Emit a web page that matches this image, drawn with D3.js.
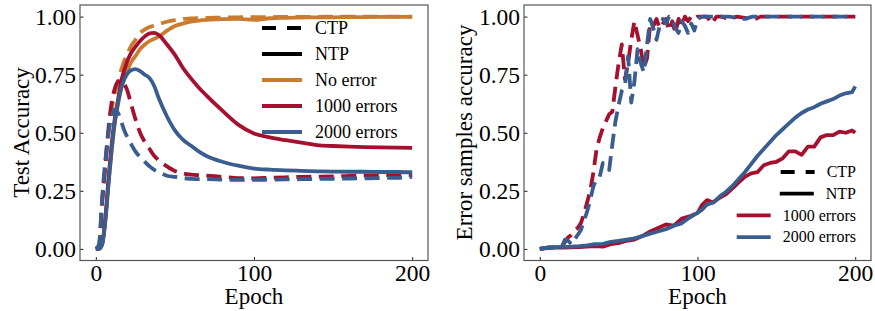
<!DOCTYPE html>
<html>
<head>
<meta charset="utf-8">
<script src="https://cdn.jsdelivr.net/npm/d3@7"></script>
<style>
body { margin: 0; background: #fff; }
text { font-family: "Liberation Serif", "Times New Roman", serif; fill: #000; }
</style>
</head>
<body>
<div id="chart-area"></div>
<script>
// colours
const orange = "#cb7b2e", red = "#a5102f", blue = "#3a5d8f";

// ---- left panel: test accuracy ----
const epochsL = [0,2,4,6,8,10,12,14,16,18,20,22,25,28,31,34,37,40,45,50,55,60,65,70,80,90,100,110,120,130,140,150,160,170,180,190,200];
const noErrNTP = [0,0,0.02,0.12,0.28,0.42,0.54,0.62,0.69,0.74,0.77,0.80,0.83,0.86,0.88,0.895,0.905,0.915,0.94,0.96,0.97,0.978,0.983,0.986,0.989,0.99,0.986,0.993,0.995,0.996,0.997,0.997,0.998,0.998,0.999,0.999,0.999];
const noErrCTP = [0,0.01,0.2,0.35,0.5,0.6,0.67,0.72,0.77,0.81,0.84,0.87,0.90,0.93,0.945,0.955,0.962,0.968,0.978,0.985,0.99,0.992,0.994,0.995,0.996,0.997,0.998,0.998,0.999,0.999,0.999,1,1,1,1,1,1];
const err1kNTP = [0,0,0.02,0.13,0.3,0.45,0.56,0.64,0.72,0.77,0.81,0.84,0.87,0.895,0.915,0.928,0.93,0.92,0.88,0.835,0.78,0.735,0.695,0.66,0.595,0.535,0.497,0.48,0.468,0.457,0.447,0.443,0.44,0.438,0.437,0.436,0.435];
const err1kCTP = [0,0.01,0.2,0.36,0.52,0.63,0.69,0.72,0.725,0.71,0.68,0.63,0.56,0.50,0.46,0.43,0.40,0.38,0.355,0.335,0.325,0.32,0.317,0.315,0.31,0.305,0.304,0.306,0.308,0.31,0.311,0.312,0.314,0.316,0.317,0.318,0.318];
const err2kNTP = [0,0,0.02,0.12,0.28,0.43,0.55,0.63,0.69,0.73,0.755,0.768,0.774,0.765,0.75,0.735,0.70,0.645,0.57,0.51,0.47,0.445,0.42,0.40,0.375,0.358,0.346,0.341,0.338,0.336,0.334,0.333,0.332,0.332,0.331,0.331,0.33];
const err2kCTP = [0,0.02,0.22,0.38,0.5,0.57,0.6,0.585,0.55,0.51,0.48,0.455,0.42,0.395,0.375,0.355,0.34,0.33,0.315,0.31,0.305,0.302,0.30,0.30,0.298,0.297,0.297,0.298,0.299,0.30,0.301,0.302,0.303,0.304,0.305,0.306,0.31];

// ---- right panel: error samples accuracy ----
const epochsRD = [0,5,10,14,16,18,20,22,24,26,28,30,32,34,36,38,40,42,44,46,48,50,52,54,56,58,60,62,64,66,68,70,72,74,76,78,80,82,84,86,88,90,92,94,96,98,100,103,106,109,112,115,120,125,130,135,140,150,160,170,180,190,200];
const errS1kCTP = [0,0.005,0.008,0.01,0.03,0.05,0.06,0.08,0.09,0.11,0.15,0.20,0.25,0.33,0.43,0.48,0.52,0.55,0.58,0.59,0.70,0.80,0.88,0.73,0.80,0.90,0.98,0.92,0.86,0.78,0.82,0.97,0.96,0.99,0.95,0.97,0.99,0.94,0.98,0.93,0.99,0.96,1.0,0.98,1.0,0.99,1.0,1.0,1.0,0.97,1.0,1.0,0.99,1.0,0.995,0.985,1.0,1.0,1.0,1.0,1.0,1.0,1.0];
const errS2kCTP = [0,0.005,0.008,0.01,0.04,0.035,0.02,0.04,0.06,0.08,0.12,0.16,0.21,0.27,0.30,0.31,0.37,0.36,0.34,0.45,0.55,0.62,0.68,0.70,0.83,0.63,0.72,0.86,0.80,0.76,0.88,0.99,0.95,0.90,0.96,0.99,0.97,1.0,0.99,0.95,0.93,0.98,0.96,0.93,0.97,0.94,0.99,1.0,1.0,1.0,1.0,1.0,1.0,0.995,0.99,1.0,1.0,1.0,1.0,1.0,1.0,1.0,1.0];
const epochsRS = [0,5,10,15,20,25,30,35,40,45,50,55,60,65,70,75,80,85,90,95,100,103,106,110,114,118,122,126,130,134,138,142,146,150,154,158,162,166,170,174,178,182,186,190,194,198,200];
const errS1kNTP = [0,0.003,0.005,0.006,0.007,0.008,0.01,0.012,0.01,0.02,0.025,0.035,0.04,0.055,0.075,0.09,0.105,0.10,0.13,0.14,0.155,0.19,0.21,0.20,0.22,0.235,0.26,0.285,0.31,0.325,0.33,0.36,0.37,0.375,0.39,0.42,0.42,0.405,0.44,0.44,0.48,0.49,0.49,0.505,0.50,0.51,0.50];
const errS2kNTP = [0,0.005,0.008,0.009,0.01,0.012,0.015,0.02,0.022,0.03,0.035,0.04,0.045,0.055,0.065,0.075,0.085,0.10,0.11,0.135,0.155,0.17,0.19,0.20,0.225,0.245,0.27,0.30,0.33,0.365,0.40,0.43,0.46,0.49,0.515,0.54,0.565,0.585,0.60,0.61,0.625,0.635,0.645,0.66,0.67,0.675,0.70];

const yTicks = [0, 0.25, 0.5, 0.75, 1.0];
const xTicks = [0, 100, 200];

const W = 875, H = 311;
const lw = 3.8, dash = "15,7.5";

var svg = d3.select("#chart-area")
	.append("svg")
		.attr("width", W)
		.attr("height", H);

svg.append("rect").attr("width", W).attr("height", H).attr("fill", "#fff");

function drawPanel(p) {
	var x = d3.scaleLinear().domain([-10, 210]).range([p.left, p.right]);
	var y = d3.scaleLinear().domain([-0.05, 1.05]).range([260.5, 5]);

	var line = d3.line()
		.x(function(d) { return x(d[0]); })
		.y(function(d) { return y(d[1]); })
		.curve(p.curve);

	p.series.forEach(function(s) {
		svg.append("path")
			.attr("fill", "none")
			.attr("stroke", s.color)
			.attr("stroke-width", lw)
			.attr("stroke-linejoin", "round")
			.attr("stroke-dasharray", s.dashed ? dash : null)
			.attr("d", line(d3.zip(s.e, s.v)));
	});

	// axes, ticks pointing inwards
	var xAxis = svg.append("g")
		.attr("transform", "translate(0," + y.range()[0] + ")")
		.call(d3.axisBottom(x).tickValues(xTicks).tickSizeInner(-3.5).tickSizeOuter(0).tickPadding(4));
	var yAxis = svg.append("g")
		.attr("transform", "translate(" + p.left + ",0)")
		.call(d3.axisLeft(y).tickValues(yTicks).tickFormat(d3.format(".2f")).tickSizeInner(-3.5).tickSizeOuter(0).tickPadding(4));
	[xAxis, yAxis].forEach(function(a) {
		a.select(".domain").remove();
		a.selectAll("text").attr("font-size", "23.5px").attr("font-family", "Liberation Serif, serif");
		a.selectAll("line").attr("stroke", "#222");
	});

	// frame
	svg.append("rect")
		.attr("x", p.left).attr("y", 5)
		.attr("width", p.right - p.left).attr("height", 255.5)
		.attr("fill", "none").attr("stroke", "#555").attr("stroke-width", 1.2);

	svg.append("text")
		.attr("x", (x(0) + x(200)) / 2)
		.attr("y", 304)
		.attr("font-size", "23px")
		.attr("text-anchor", "middle")
		.text("Epoch");

	svg.append("text")
		.attr("transform", "translate(" + p.ylabelX + ",132.5) rotate(-90)")
		.attr("font-size", "23px")
		.attr("text-anchor", "middle")
		.text(p.ylabel);
}

function drawLegend(items, lg) {
	items.forEach(function(it, i) {
		var cy = lg.top + i * lg.step;
		var t = svg.append("text")
			.attr("y", cy + lg.size * 0.33)
			.attr("font-size", lg.size + "px")
			.text(it.label);
		var tx;
		if (lg.rightEdge) {
			tx = lg.rightEdge - t.node().getComputedTextLength();
		} else {
			tx = lg.textX;
		}
		t.attr("x", tx);
		var x1 = tx - lg.gap;
		svg.append("line")
			.attr("x1", x1 - lg.len).attr("x2", x1)
			.attr("y1", cy).attr("y2", cy)
			.attr("stroke", it.color)
			.attr("stroke-width", lw)
			.attr("stroke-dasharray", it.dashed ? "14,11" : null);
	});
}

drawPanel({
	left: 80, right: 428, ylabelX: 28.5, ylabel: "Test Accuracy",
	curve: d3.curveMonotoneX,
	series: [
		{ e: epochsL, v: noErrCTP, color: orange, dashed: true },
		{ e: epochsL, v: noErrNTP, color: orange },
		{ e: epochsL, v: err1kCTP, color: red, dashed: true },
		{ e: epochsL, v: err1kNTP, color: red },
		{ e: epochsL, v: err2kCTP, color: blue, dashed: true },
		{ e: epochsL, v: err2kNTP, color: blue }
	]
});

drawPanel({
	left: 524, right: 871, ylabelX: 472, ylabel: "Error samples accuracy",
	curve: d3.curveLinear,
	series: [
		{ e: epochsRD, v: errS1kCTP, color: red, dashed: true },
		{ e: epochsRS, v: errS1kNTP, color: red },
		{ e: epochsRD, v: errS2kCTP, color: blue, dashed: true },
		{ e: epochsRS, v: errS2kNTP, color: blue }
	]
});

drawLegend([
	{ label: "CTP", color: "#000", dashed: true },
	{ label: "NTP", color: "#000" },
	{ label: "No error", color: orange },
	{ label: "1000 errors", color: red },
	{ label: "2000 errors", color: blue }
], { top: 28, step: 26, size: 18, textX: 315, gap: 13, len: 40 });

drawLegend([
	{ label: "CTP", color: "#000", dashed: true },
	{ label: "NTP", color: "#000" },
	{ label: "1000 errors", color: red },
	{ label: "2000 errors", color: blue }
], { top: 172, step: 21.7, size: 16, rightEdge: 856, gap: 12, len: 34 });
</script>
</body>
</html>
